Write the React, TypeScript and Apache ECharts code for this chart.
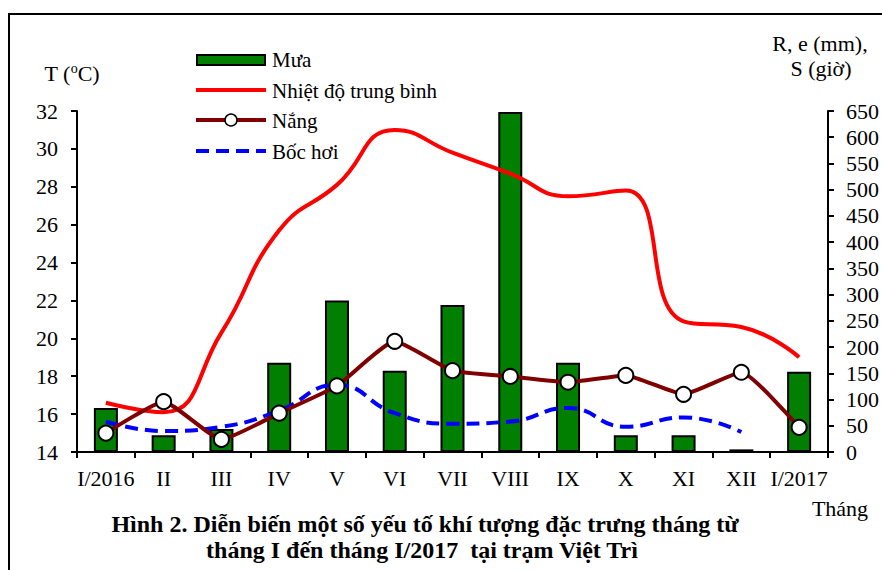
import React, { useEffect, useRef } from "react";
import * as echarts from "echarts";

const categories = ["I/2016", "II", "III", "IV", "V", "VI", "VII", "VIII", "IX", "X", "XI", "XII", "I/2017"];
const rain = [84, 32, 44, 170, 289, 155, 280, 648, 170, 32, 32, 5, 153];
const temperature = [16.6, 16.1, 20.3, 25.7, 28.1, 31.0, 29.8, 28.7, 27.5, 27.8, 20.9, 20.6, 19.0];
const sunshine = [36, 96, 24, 74, 126, 211, 155, 144, 133, 146, 110, 152, 47];
const evaporation = [58, 40, 48, 79, 128, 74, 54, 58, 84, 48, 66, 38, null];

const seriesNames = ["Mưa", "Nhiệt độ trung bình", "Nắng", "Bốc hơi"];
const FONT = '"Liberation Serif", "Times New Roman", serif';

const RAIN_COLOR = "#007F00";
const TEMP_COLOR = "#FF0000";
const SUN_COLOR = "#800000";
const EVAP_COLOR = "#0000FF";

export default function App() {
  const ref = useRef<HTMLDivElement>(null);
  useEffect(() => {
    if (!ref.current) return;
    const chart = echarts.init(ref.current, null, { renderer: "svg" });
    const axisLine = { show: true, lineStyle: { color: "#000", width: 2 } };
    const axisTick = { show: true, length: 6, lineStyle: { color: "#000", width: 2 } };
    const legendText = (y: number, text: string) => ({
      type: "text",
      x: 272,
      y,
      style: { text, fontFamily: FONT, fontSize: 21, fill: "#000", align: "left", verticalAlign: "middle" },
    });
    chart.setOption({
      animation: false,
      backgroundColor: "#fff",
      textStyle: { fontFamily: FONT, color: "#000" },
      grid: { left: 77, right: 54, top: 111, bottom: 118 },
      xAxis: {
        type: "category",
        data: categories,
        axisLine,
        axisTick: { ...axisTick, alignWithLabel: false },
        axisLabel: { fontFamily: FONT, fontSize: 22, color: "#000", margin: 15, interval: 0 },
        splitLine: { show: false },
      },
      yAxis: [
        {
          type: "value",
          min: 14,
          max: 32,
          interval: 2,
          axisLine,
          axisTick,
          splitLine: { show: false },
          axisLabel: { fontFamily: FONT, fontSize: 22, color: "#000", margin: 19 },
        },
        {
          type: "value",
          min: 0,
          max: 650,
          interval: 50,
          position: "right",
          axisLine,
          axisTick,
          splitLine: { show: false },
          axisLabel: { fontFamily: FONT, fontSize: 22, color: "#000", margin: 18 },
        },
      ],
      series: [
        {
          name: seriesNames[0],
          type: "bar",
          yAxisIndex: 1,
          data: rain,
          barWidth: 24,
          itemStyle: { color: RAIN_COLOR, borderColor: "#000", borderWidth: 2 },
          z: 1,
        },
        {
          name: seriesNames[1],
          type: "line",
          yAxisIndex: 0,
          data: temperature,
          smooth: 0.5,
          symbol: "none",
          lineStyle: { color: TEMP_COLOR, width: 4 },
          itemStyle: { color: TEMP_COLOR },
          z: 2,
        },
        {
          name: seriesNames[3],
          type: "line",
          yAxisIndex: 1,
          data: evaporation,
          smooth: 0.5,
          symbol: "none",
          lineStyle: { color: EVAP_COLOR, width: 4, type: [13, 7] },
          itemStyle: { color: EVAP_COLOR },
          z: 3,
        },
        {
          name: seriesNames[2],
          type: "line",
          yAxisIndex: 1,
          data: sunshine,
          smooth: 0.15,
          symbol: "circle",
          symbolSize: 15,
          lineStyle: { color: SUN_COLOR, width: 4 },
          itemStyle: { color: "#fff", borderColor: "#000", borderWidth: 2 },
          z: 4,
        },
      ],
      graphic: [
        {
          type: "rect",
          shape: { x: 9, y: 14, width: 900, height: 600 },
          style: { fill: "none", stroke: "#000", lineWidth: 2 },
          silent: true,
          z: -1,
        },
        // legend
        {
          type: "rect",
          shape: { x: 197, y: 55, width: 68, height: 10 },
          style: { fill: RAIN_COLOR, stroke: "#000", lineWidth: 2 },
        },
        legendText(60, seriesNames[0]),
        {
          type: "line",
          shape: { x1: 196, y1: 90, x2: 266, y2: 90 },
          style: { stroke: TEMP_COLOR, lineWidth: 4 },
        },
        legendText(91, seriesNames[1]),
        {
          type: "line",
          shape: { x1: 196, y1: 120, x2: 266, y2: 120 },
          style: { stroke: SUN_COLOR, lineWidth: 4 },
        },
        {
          type: "circle",
          shape: { cx: 231, cy: 120, r: 6 },
          style: { fill: "#fff", stroke: "#000", lineWidth: 1.5 },
        },
        legendText(121, seriesNames[2]),
        {
          type: "line",
          shape: { x1: 196, y1: 151, x2: 266, y2: 151 },
          style: { stroke: EVAP_COLOR, lineWidth: 4, lineDash: [13, 7] },
        },
        legendText(152, seriesNames[3]),
        // axis names & captions
        {
          type: "text",
          x: 72,
          y: 73,
          style: {
            text: "T ({s|o}C)",
            rich: { s: { fontSize: 14, fontFamily: FONT, padding: [0, 0, 9, 0] } },
            fontFamily: FONT,
            fontSize: 22,
            fill: "#000",
            align: "center",
            verticalAlign: "middle",
          },
        },
        {
          type: "text",
          x: 820,
          y: 43,
          style: { text: "R, e (mm),", fontFamily: FONT, fontSize: 22, fill: "#000", align: "center", verticalAlign: "middle" },
        },
        {
          type: "text",
          x: 821,
          y: 68,
          style: { text: "S (giờ)", fontFamily: FONT, fontSize: 22, fill: "#000", align: "center", verticalAlign: "middle" },
        },
        {
          type: "text",
          x: 840,
          y: 508,
          style: { text: "Tháng", fontFamily: FONT, fontSize: 22, fill: "#000", align: "center", verticalAlign: "middle" },
        },
        {
          type: "text",
          x: 425,
          y: 524,
          style: {
            text: "Hình 2. Diễn biến một số yếu tố khí tượng đặc trưng tháng từ",
            fontFamily: FONT,
            fontSize: 24,
            fontWeight: "bold",
            fill: "#000",
            align: "center",
            verticalAlign: "middle",
          },
        },
        {
          type: "text",
          x: 422,
          y: 550,
          style: {
            text: "tháng I đến tháng I/2017  tại trạm Việt Trì",
            fontFamily: FONT,
            fontSize: 24,
            fontWeight: "bold",
            fill: "#000",
            align: "center",
            verticalAlign: "middle",
          },
        },
      ],
    });
    return () => chart.dispose();
  }, []);
  return <div ref={ref} style={{ position: "absolute", left: 0, top: 0, width: 882, height: 570 }} />;
}
